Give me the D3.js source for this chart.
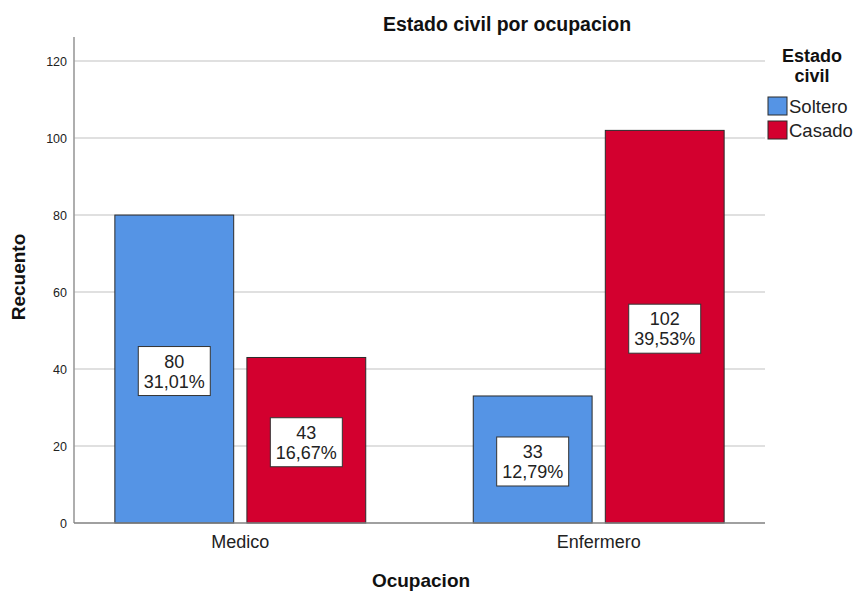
<!DOCTYPE html>
<html>
<head>
<meta charset="utf-8">
<script src="https://cdn.jsdelivr.net/npm/d3@7/dist/d3.min.js"></script>
<style>
  html, body { margin: 0; padding: 0; background: #ffffff; }
  svg { display: block; font-family: "Liberation Sans", Arial, sans-serif; }
</style>
</head>
<body>
<svg id="chart" width="859" height="592"></svg>
<script>
// Counts of marital status by occupation
const categories = ["Medico", "Enfermero"];
const seriesNames = ["Soltero", "Casado"];
const soltero = [80, 33];
const casado = [43, 102];
const yTicks = [0, 20, 40, 60, 80, 100, 120];

const colors = { Soltero: "#5594e5", Casado: "#d3002f" };

const svg = d3.select("#chart");
const plot = { left: 74, right: 765, top: 38, bottom: 523 };

const values = { Soltero: soltero, Casado: casado };
const total = d3.sum(soltero) + d3.sum(casado);
const rows = [];
categories.forEach((c, i) => {
  seriesNames.forEach(s => rows.push({ cat: c, series: s, value: values[s][i] }));
});

const x0 = d3.scaleBand()
  .domain(categories)
  .range([plot.left, plot.right])
  .paddingInner(0.3)
  .paddingOuter(0.114);

const x1 = d3.scaleBand()
  .domain(seriesNames)
  .range([0, x0.bandwidth()])
  .paddingInner(0.1);

const y = d3.scaleLinear()
  .domain([0, 126])
  .range([plot.bottom, plot.top]);

// Horizontal gridlines
svg.append("g")
  .selectAll("line")
  .data(yTicks.filter(t => t > 0))
  .join("line")
  .attr("x1", plot.left)
  .attr("x2", plot.right)
  .attr("y1", d => y(d))
  .attr("y2", d => y(d))
  .attr("stroke", "#d6d6d6")
  .attr("stroke-width", 1.5);

// Y axis (labels only, no tick marks)
const yAxis = svg.append("g")
  .attr("transform", `translate(${plot.left},0)`)
  .call(d3.axisLeft(y).tickValues(yTicks).tickSize(0).tickPadding(7));
yAxis.select(".domain").remove();
yAxis.selectAll("text")
  .attr("font-size", 12.5)
  .attr("fill", "#222")
  .attr("font-family", "Liberation Sans, Arial, sans-serif");

svg.append("line")
  .attr("x1", plot.left).attr("x2", plot.left)
  .attr("y1", plot.top - 1).attr("y2", plot.bottom)
  .attr("stroke", "#9a9a9a").attr("stroke-width", 1.6);

// Bars
const bars = svg.append("g");
bars.selectAll("rect")
  .data(rows)
  .join("rect")
  .attr("x", d => x0(d.cat) + x1(d.series))
  .attr("y", d => y(d.value))
  .attr("width", x1.bandwidth())
  .attr("height", d => y(0) - y(d.value))
  .attr("fill", d => colors[d.series])
  .attr("stroke", "#2b2b2b")
  .attr("stroke-width", 1);

// X axis baseline
svg.append("line")
  .attr("x1", plot.left).attr("x2", plot.right)
  .attr("y1", plot.bottom).attr("y2", plot.bottom)
  .attr("stroke", "#808080").attr("stroke-width", 1.5);

// X axis category labels
const xAxis = svg.append("g")
  .attr("transform", `translate(0,${plot.bottom})`)
  .call(d3.axisBottom(x0).tickSize(0).tickPadding(12));
xAxis.select(".domain").remove();
xAxis.selectAll("text")
  .attr("font-size", 18)
  .attr("fill", "#222")
  .attr("font-family", "Liberation Sans, Arial, sans-serif");

// Value labels: count and share of total inside a white box
const fmtPct = v => (v / total * 100).toFixed(2).replace(".", ",") + "%";
const labels = svg.append("g");
rows.forEach(d => {
  const cx = x0(d.cat) + x1(d.series) + x1.bandwidth() / 2;
  const cy = y(d.value / 2) + 2;
  const g = labels.append("g").attr("transform", `translate(${cx},${cy})`);
  const bw = 72, bh = 49;
  g.append("rect")
    .attr("x", -bw / 2).attr("y", -bh / 2)
    .attr("width", bw).attr("height", bh)
    .attr("fill", "#ffffff")
    .attr("stroke", "#333")
    .attr("stroke-width", 1);
  g.append("text")
    .attr("text-anchor", "middle")
    .attr("y", -3.5)
    .attr("font-size", 18)
    .attr("fill", "#222")
    .text(d.value);
  g.append("text")
    .attr("text-anchor", "middle")
    .attr("y", 16.5)
    .attr("font-size", 18)
    .attr("fill", "#222")
    .text(fmtPct(d.value));
});

// Title
svg.append("text")
  .attr("x", 507)
  .attr("y", 31)
  .attr("text-anchor", "middle")
  .attr("font-size", 19.5)
  .attr("font-weight", "bold")
  .attr("fill", "#111")
  .text("Estado civil por ocupacion");

// Axis titles
svg.append("text")
  .attr("transform", "translate(25,277) rotate(-90)")
  .attr("text-anchor", "middle")
  .attr("font-size", 19)
  .attr("font-weight", "bold")
  .attr("fill", "#111")
  .text("Recuento");

svg.append("text")
  .attr("x", 421)
  .attr("y", 587)
  .attr("text-anchor", "middle")
  .attr("font-size", 19)
  .attr("font-weight", "bold")
  .attr("fill", "#111")
  .text("Ocupacion");

// Legend
const legend = svg.append("g");
legend.append("text")
  .attr("x", 812).attr("y", 62)
  .attr("text-anchor", "middle")
  .attr("font-size", 18).attr("font-weight", "bold").attr("fill", "#111")
  .text("Estado");
legend.append("text")
  .attr("x", 812).attr("y", 82)
  .attr("text-anchor", "middle")
  .attr("font-size", 18).attr("font-weight", "bold").attr("fill", "#111")
  .text("civil");

const legendItem = legend.selectAll("g.item")
  .data(seriesNames)
  .join("g")
  .attr("class", "item")
  .attr("transform", (d, i) => `translate(768,${97 + i * 24})`);
legendItem.append("rect")
  .attr("width", 19).attr("height", 18)
  .attr("fill", d => colors[d])
  .attr("stroke", "#2b2b2b").attr("stroke-width", 1);
legendItem.append("text")
  .attr("x", 21).attr("y", 16)
  .attr("font-size", 18.5).attr("fill", "#222")
  .text(d => d);
</script>
</body>
</html>
